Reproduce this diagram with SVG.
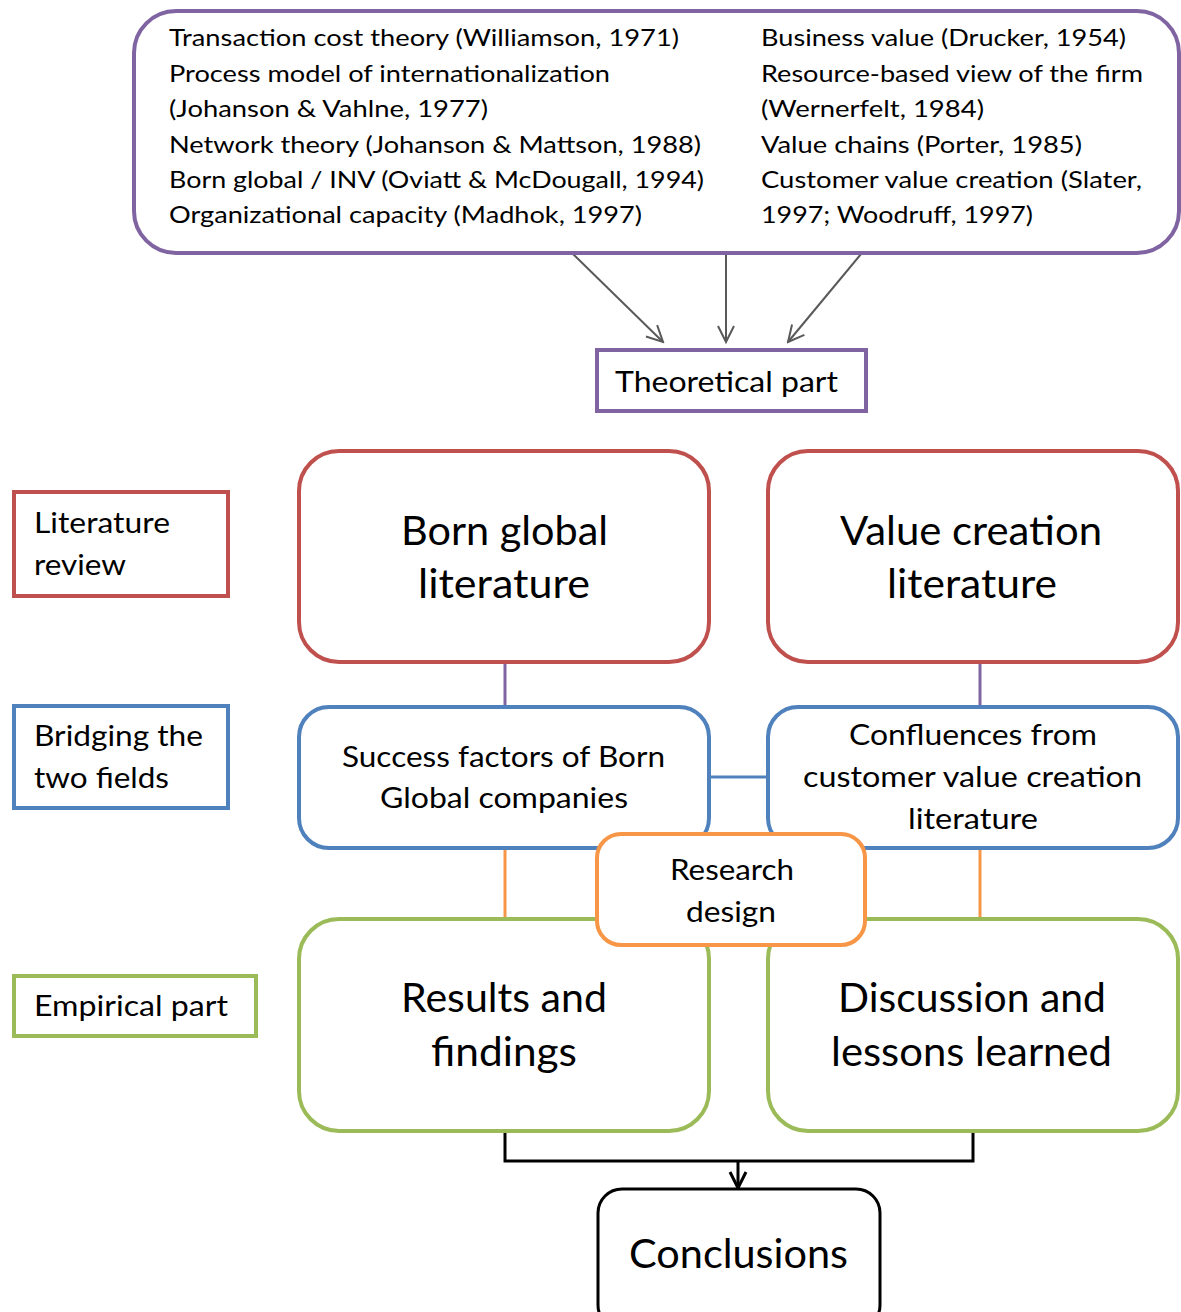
<svg xmlns="http://www.w3.org/2000/svg" width="1181" height="1312" viewBox="0 0 1181 1312">
<defs>
<marker id="ag" viewBox="0 0 20 20" refX="18" refY="10" markerWidth="20" markerHeight="20" markerUnits="userSpaceOnUse" orient="auto">
<path d="M2,2 L18,10 L2,18" fill="none" stroke="#595959" stroke-width="2"/>
</marker>
<marker id="ak" viewBox="0 0 20 20" refX="18" refY="10" markerWidth="20" markerHeight="20" markerUnits="userSpaceOnUse" orient="auto">
<path d="M2,2 L18,10 L2,18" fill="none" stroke="#000" stroke-width="3"/>
</marker>
<style>
text{font-family:Lato,"Open Sans","Liberation Sans",sans-serif;fill:#000}
.s{font-size:24px}
.m{font-size:28px}
.l{font-size:40px}
.c{text-anchor:middle}
.box{fill:#fff;stroke-width:4}
.pu{stroke:#8064A2}
.re{stroke:#C0504D}
.bl{stroke:#4F81BD}
.gr{stroke:#9BBB59}
.or{stroke:#F79646}
.bk{stroke:#000;stroke-width:3}
</style>
</defs>
<rect width="1181" height="1312" fill="#fff"/>

<g id="connectors" fill="none">
<line x1="573" y1="254" x2="663" y2="342" stroke="#595959" stroke-width="2" marker-end="url(#ag)"/>
<line x1="726" y1="254" x2="726" y2="342" stroke="#595959" stroke-width="2" marker-end="url(#ag)"/>
<line x1="861" y1="254" x2="788" y2="342" stroke="#595959" stroke-width="2" marker-end="url(#ag)"/>
<line x1="505" y1="662" x2="505" y2="706" stroke="#8064A2" stroke-width="3"/>
<line x1="980" y1="662" x2="980" y2="706" stroke="#8064A2" stroke-width="3"/>
<line x1="710" y1="777" x2="767" y2="777" stroke="#4F81BD" stroke-width="3"/>
<line x1="505" y1="848" x2="505" y2="918" stroke="#F79646" stroke-width="3"/>
<line x1="980" y1="848" x2="980" y2="918" stroke="#F79646" stroke-width="3"/>
<polyline points="505,1132 505,1161 973,1161 973,1132" stroke="#000" stroke-width="3"/>
<line x1="738" y1="1161" x2="738" y2="1188" stroke="#000" stroke-width="3" marker-end="url(#ak)"/>
</g>

<g id="theories">
<rect class="box pu" x="134" y="11" width="1045" height="242" rx="42"/>
<text class="s" x="169" y="46" textLength="510" lengthAdjust="spacingAndGlyphs">Transaction cost theory (Williamson, 1971)</text>
<text class="s" x="169" y="82" textLength="441" lengthAdjust="spacingAndGlyphs">Process model of internationalization</text>
<text class="s" x="169" y="117" textLength="319" lengthAdjust="spacingAndGlyphs">(Johanson &amp; Vahlne, 1977)</text>
<text class="s" x="169" y="153" textLength="532" lengthAdjust="spacingAndGlyphs">Network theory (Johanson &amp; Mattson, 1988)</text>
<text class="s" x="169" y="188" textLength="535" lengthAdjust="spacingAndGlyphs">Born global / INV (Oviatt &amp; McDougall, 1994)</text>
<text class="s" x="169" y="223" textLength="473" lengthAdjust="spacingAndGlyphs">Organizational capacity (Madhok, 1997)</text>
<text class="s" x="761" y="46" textLength="365" lengthAdjust="spacingAndGlyphs">Business value (Drucker, 1954)</text>
<text class="s" x="761" y="82" textLength="382" lengthAdjust="spacingAndGlyphs">Resource-based view of the firm</text>
<text class="s" x="761" y="117" textLength="223" lengthAdjust="spacingAndGlyphs">(Wernerfelt, 1984)</text>
<text class="s" x="761" y="153" textLength="321" lengthAdjust="spacingAndGlyphs">Value chains (Porter, 1985)</text>
<text class="s" x="761" y="188" textLength="381" lengthAdjust="spacingAndGlyphs">Customer value creation (Slater,</text>
<text class="s" x="761" y="223" textLength="272" lengthAdjust="spacingAndGlyphs">1997; Woodruff, 1997)</text>
</g>

<g id="theoretical-part">
<rect class="box pu" x="597" y="350" width="269" height="61"/>
<text class="m" x="615" y="392" textLength="223" lengthAdjust="spacingAndGlyphs">Theoretical part</text>
</g>

<g id="literature-review">
<rect class="box re" x="14" y="492" width="214" height="104"/>
<text class="m" x="34" y="533" textLength="136" lengthAdjust="spacingAndGlyphs">Literature</text>
<text class="m" x="34" y="575" textLength="92" lengthAdjust="spacingAndGlyphs">review</text>
</g>

<g id="bridging">
<rect class="box bl" x="14" y="706" width="214" height="102"/>
<text class="m" x="34" y="746" textLength="169" lengthAdjust="spacingAndGlyphs">Bridging the</text>
<text class="m" x="34" y="788" textLength="135" lengthAdjust="spacingAndGlyphs">two fields</text>
</g>

<g id="empirical-part">
<rect class="box gr" x="14" y="976" width="242" height="60"/>
<text class="m" x="34" y="1016" textLength="194" lengthAdjust="spacingAndGlyphs">Empirical part</text>
</g>

<g id="born-global-lit">
<rect class="box re" x="299" y="451" width="410" height="211" rx="40"/>
<text class="l" x="401" y="545" textLength="207" lengthAdjust="spacingAndGlyphs">Born global</text>
<text class="l" x="418" y="598" textLength="172" lengthAdjust="spacingAndGlyphs">literature</text>
</g>

<g id="value-creation-lit">
<rect class="box re" x="768" y="451" width="410" height="211" rx="40"/>
<text class="l" x="840" y="545" textLength="262" lengthAdjust="spacingAndGlyphs">Value creation</text>
<text class="l" x="887" y="598" textLength="170" lengthAdjust="spacingAndGlyphs">literature</text>
</g>

<g id="success-factors">
<rect class="box bl" x="299" y="707" width="410" height="141" rx="30"/>
<text class="m" x="342" y="767" textLength="323" lengthAdjust="spacingAndGlyphs">Success factors of Born</text>
<text class="m" x="380" y="808" textLength="248" lengthAdjust="spacingAndGlyphs">Global companies</text>
</g>

<g id="confluences">
<rect class="box bl" x="768" y="707" width="410" height="141" rx="30"/>
<text class="m" x="849" y="745" textLength="248" lengthAdjust="spacingAndGlyphs">Confluences from</text>
<text class="m" x="803" y="787" textLength="339" lengthAdjust="spacingAndGlyphs">customer value creation</text>
<text class="m" x="908" y="829" textLength="130" lengthAdjust="spacingAndGlyphs">literature</text>
</g>

<g id="results">
<rect class="box gr" x="299" y="919" width="410" height="212" rx="40"/>
<text class="l" x="401" y="1012" textLength="206" lengthAdjust="spacingAndGlyphs">Results and</text>
<text class="l" x="431" y="1066" textLength="146" lengthAdjust="spacingAndGlyphs">findings</text>
</g>

<g id="discussion">
<rect class="box gr" x="768" y="919" width="410" height="212" rx="40"/>
<text class="l" x="838" y="1012" textLength="268" lengthAdjust="spacingAndGlyphs">Discussion and</text>
<text class="l" x="831" y="1066" textLength="281" lengthAdjust="spacingAndGlyphs">lessons learned</text>
</g>

<g id="research-design">
<rect class="box or" x="597" y="834" width="268" height="111" rx="24"/>
<text class="m" x="670" y="880" textLength="124" lengthAdjust="spacingAndGlyphs">Research</text>
<text class="m" x="686" y="922" textLength="90" lengthAdjust="spacingAndGlyphs">design</text>
</g>

<g id="conclusions">
<rect class="box bk" x="598" y="1189" width="282" height="140" rx="24"/>
<text class="l" x="629" y="1268" textLength="219" lengthAdjust="spacingAndGlyphs">Conclusions</text>
</g>
</svg>
